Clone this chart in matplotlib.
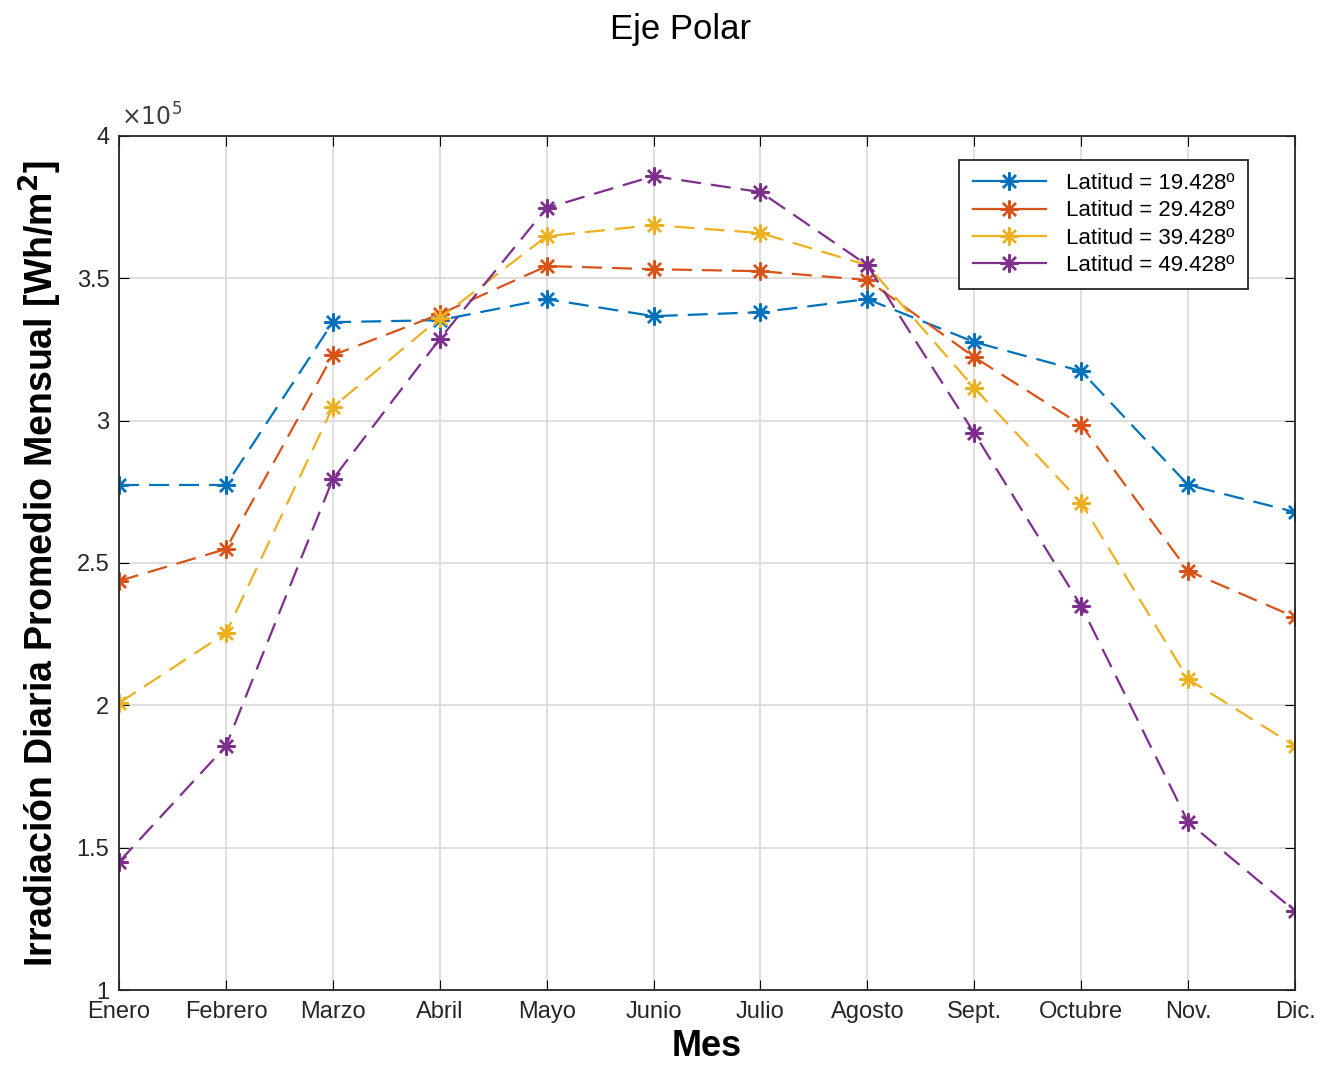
import matplotlib.pyplot as plt
from matplotlib.ticker import FuncFormatter, MultipleLocator

plt.rcParams['font.family'] = ['Liberation Sans', 'DejaVu Sans']

meses = ['Enero', 'Febrero', 'Marzo', 'Abril', 'Mayo', 'Junio', 'Julio',
         'Agosto', 'Sept.', 'Octubre', 'Nov.', 'Dic.']

# irradiacion [Wh/m^2] por latitud
lat_19 = [277400, 277400, 334600, 335300, 342700, 336700, 338100,
          342700, 327600, 317400, 277400, 267900]
lat_29 = [243700, 254900, 323000, 337400, 354300, 353200, 352500,
          349400, 322300, 298500, 247200, 231000]
lat_39 = [200800, 225400, 304800, 336000, 364800, 368700, 365900,
          354600, 311500, 271100, 209200, 185700]
lat_49 = [145000, 185700, 279500, 328700, 374700, 385900, 380300,
          354600, 295600, 234900, 159000, 127700]

series = [(lat_19, 'Latitud = 19.428º', '#0072BD'),
          (lat_29, 'Latitud = 29.428º', '#D95319'),
          (lat_39, 'Latitud = 39.428º', '#EDB120'),
          (lat_49, 'Latitud = 49.428º', '#7E2F8E')]

fig = plt.figure(figsize=(13.17, 10.69), dpi=100)
ax = fig.add_axes([0.0904, 0.0739, 0.8929, 0.7989])

x = list(range(len(meses)))
for vals, lab, col in series:
    ax.plot(x, vals, linestyle=(0, (9, 4.5)), color=col, linewidth=1.6,
            marker=(8, 2, 0), markersize=13, markeredgewidth=1.7,
            label=lab)

ax.set_xlim(0, 11)
ax.set_ylim(1e5, 4e5)
ax.set_xticks(x)
ax.set_xticklabels(meses)
ax.yaxis.set_major_locator(MultipleLocator(0.5e5))
ax.yaxis.set_major_formatter(FuncFormatter(lambda v, p: f'{v / 1e5:g}'))
ax.text(0.002, 1.006, r'$\times10^5$', transform=ax.transAxes, fontsize=17,
        color='#404040', ha='left', va='bottom')

ax.grid(True, color='#d9d9d9', linewidth=1.2)
ax.tick_params(direction='in', top=True, right=True, labelsize=17,
               labelcolor='#262626', length=7, pad=8)
ax.tick_params(axis='y', pad=7)
for s in ax.spines.values():
    s.set_linewidth(1.3)
    s.set_color('#262626')

ax.set_xlabel('Mes', fontsize=26, fontweight='bold', labelpad=4)
ax.set_ylabel('Irradiación Diaria Promedio Mensual [Wh/m$^\\mathbf{2}$]',
              fontsize=27, fontweight='bold', labelpad=9)
fig.text(0.517, 0.972, 'Eje Polar', fontsize=25, ha='center', va='center')

leg = ax.legend(loc='upper right', bbox_to_anchor=(0.960, 0.972),
                borderaxespad=0, fontsize=16, frameon=True, fancybox=False,
                framealpha=1, edgecolor='#262626', handlelength=3.3,
                borderpad=0.6, labelspacing=0.28, handletextpad=0.9)
leg.get_frame().set_linewidth(1.3)
for h in leg.get_lines():
    h.set_linestyle('-')

fig.savefig('out.png', dpi=100)
